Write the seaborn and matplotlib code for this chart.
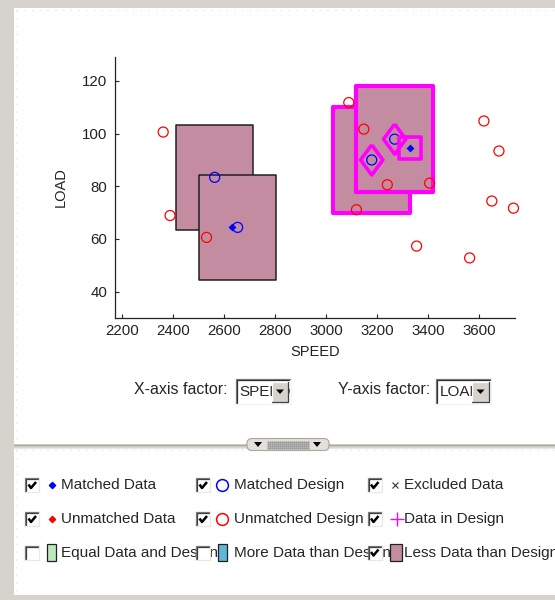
import matplotlib.pyplot as plt
from matplotlib.patches import Rectangle, FancyBboxPatch, Polygon
import seaborn as sns

# design points that have no data inside their tolerance cell
unmatched_speed = [2360, 2387, 2530, 3088, 3147, 3239, 3118, 3405, 3354, 3618, 3677, 3649, 3734, 3562]
unmatched_load = [100.6, 68.9, 60.6, 111.8, 101.7, 80.6, 71.1, 81.2, 57.3, 104.8, 93.4, 74.4, 71.7, 52.8]

# design points matched to data
matched_speed = [2562, 2652, 3178, 3268]
matched_load = [83.4, 64.4, 90.0, 97.9]
cell_selected = [False, False, True, True]

# data points matched to design
data_speed = [2628, 3327]
data_load = [64.5, 94.6]

# selected points (highlighted in magenta)
sel_design_speed = [3178, 3268]
sel_design_load = [90.0, 97.9]
sel_data_speed = [3327]
sel_data_load = [94.6]

# tolerance of a cell
tol_speed = 152
tol_load = 20

x_ticks = [2200, 2400, 2600, 2800, 3000, 3200, 3400, 3600]
y_ticks = [40, 60, 80, 100, 120]

legend_rows = [
    [("Matched Data", True), ("Matched Design", True), ("Excluded Data", True)],
    [("Unmatched Data", True), ("Unmatched Design", True), ("Data in Design", True)],
    [("Equal Data and Design", False), ("More Data than Design", False), ("Less Data than Design", True)],
]

GRAY = "#D6D3CC"
MAUVE = "#C48CA0"

sns.set_style("ticks")
plt.rcParams["font.family"] = ["Liberation Sans", "DejaVu Sans"]

fig = plt.figure(figsize=(5.55, 6.0), dpi=100, facecolor=GRAY)

# -------------------------
# window chrome (pixel coords)
# -------------------------
bg = fig.add_axes([0, 0, 1, 1], zorder=0)
bg.set_xlim(0, 555)
bg.set_ylim(600, 0)
bg.axis("off")

bg.add_patch(Rectangle((14, 8), 541, 436, facecolor="white", edgecolor="none"))
bg.add_patch(Rectangle((14, 448), 541, 147, facecolor="white", edgecolor="none"))
bg.plot([14, 555], [444.5, 444.5], color="#A8A69E", lw=0.9)
bg.plot([14, 555], [447.5, 447.5], color="#E8E6E0", lw=0.9)
for y0, y1 in [(8, 444), (448, 595)]:
    bg.plot([15.5, 15.5], [y0 + 2, y1 - 2], color="#E2E2DA", lw=0.8, ls=(0, (1, 6)))
    bg.plot([16, 555], [y0 + 1.5, y0 + 1.5], color="#E2E2DA", lw=0.8, ls=(0, (1, 6)))

# splitter handle
bg.add_patch(FancyBboxPatch((247, 438.5), 82, 12, boxstyle="round,pad=0,rounding_size=5",
                            facecolor="#E2E0D8", edgecolor="#A8A69E", lw=0.8, zorder=3))
for cx in [258, 317]:
    bg.add_patch(Polygon([[cx - 4, 442], [cx + 4, 442], [cx, 447]], closed=True,
                         facecolor="black", edgecolor="none", zorder=4))
for gx in range(268, 309, 2):
    bg.plot([gx] * 4, [441.5, 443.5, 445.5, 447.5], ls="none", marker="s", ms=0.6,
            color="#9A9A9A", zorder=4)


def popup(x, y, label):
    w, h = 55, 25
    bg.add_patch(Rectangle((x, y), w, h, facecolor="white", edgecolor="none", zorder=2))
    bg.plot([x, x, x + w], [y + h, y, y], color="#808080", lw=0.9, zorder=5)
    bg.plot([x + 1.3, x + 1.3, x + w - 1.3], [y + h - 1.3, y + 1.3, y + 1.3], color="#303030", lw=0.9, zorder=5)
    bg.plot([x, x + w, x + w], [y + h, y + h, y], color="#F4F4F0", lw=0.9, zorder=5)
    field = Rectangle((x + 2, y + 2), w - 4, h - 4, transform=bg.transData)
    t = bg.text(x + 3.5, y + h / 2 + 1, label, fontsize=11, va="center", ha="left", zorder=3)
    t.set_clip_path(field)
    bx = x + w - 19
    bg.add_patch(Rectangle((bx, y + 2.5), 16.5, h - 5, facecolor=GRAY, edgecolor="none", zorder=4))
    bg.plot([bx, bx, bx + 16.5], [y + h - 2.5, y + 2.5, y + 2.5], color="white", lw=0.9, zorder=5)
    bg.plot([bx, bx + 16.5, bx + 16.5], [y + h - 2.5, y + h - 2.5, y + 2.5], color="#404040", lw=0.9, zorder=5)
    cx = bx + 8.5
    bg.add_patch(Polygon([[cx - 4, y + 10.5], [cx + 4, y + 10.5], [cx, y + 15]], closed=True,
                         facecolor="black", edgecolor="none", zorder=6))


bg.text(134, 390, "X-axis factor:", fontsize=11.5, va="center", ha="left")
popup(235.5, 379, "SPEED")
bg.text(338, 390, "Y-axis factor:", fontsize=11.5, va="center", ha="left")
popup(436, 379, "LOAD")


def checkbox(x, y, checked):
    bg.add_patch(Rectangle((x, y), 14, 14, facecolor="white", edgecolor="none", zorder=5))
    bg.plot([x, x, x + 14], [y + 14, y, y], color="#808080", lw=0.9, zorder=6)
    bg.plot([x + 1, x + 1, x + 13], [y + 13, y + 1, y + 1], color="#404040", lw=0.9, zorder=6)
    bg.plot([x + 14, x + 14], [y, y + 14], color="#E8E8E4", lw=0.9, zorder=6)
    bg.plot([x, x + 14], [y + 14, y + 14], color="#E8E8E4", lw=0.9, zorder=6)
    if checked:
        bg.plot([x + 3.5, x + 6, x + 11], [y + 6.5, y + 10, y + 4], color="black", lw=1.8,
                zorder=7, solid_capstyle="butt")


col_box = [25, 196, 367.5]
col_text = [60.7, 233.5, 404.5]
row_y = [485, 519, 552.5]
for r, row in enumerate(legend_rows):
    for c, (label, checked) in enumerate(row):
        bg.text(col_text[c], row_y[r], label, fontsize=11, va="center", ha="left", zorder=4)
        checkbox(col_box[c], row_y[r] - 7, checked)

# legend symbols
bg.plot(52, row_y[0], marker="D", ms=3.2, color="blue", zorder=6)
bg.plot(52, row_y[1], marker="D", ms=3.2, color="red", zorder=6)
bg.plot(222, row_y[0], marker="o", ms=8.5, mfc="none", mec="blue", mew=1.1, zorder=6)
bg.plot(222, row_y[1], marker="o", ms=8.5, mfc="none", mec="red", mew=1.1, zorder=6)
bg.plot(395, row_y[0], marker="x", ms=4.5, color="#333333", mew=0.8, zorder=6)
bg.plot(396.5, row_y[1], marker="+", ms=10.5, color="magenta", mew=1.0, zorder=6)
for sx, sw, sc in [(46.5, 9.5, "#BDE6BD"), (218, 8.5, "#62B8D4"), (389.5, 12, MAUVE)]:
    bg.add_patch(Rectangle((sx, row_y[2] - 8.5), sw, 17, facecolor=sc, edgecolor="#202020", lw=0.9, zorder=6))

# -------------------------
# Design vs data plot
# -------------------------
ax = fig.add_axes([115 / 555, 1 - 317.7 / 600, 400 / 555, 260.7 / 600], zorder=1)
ax.set_facecolor("none")

for sx, sy, sel in zip(matched_speed, matched_load, cell_selected):
    ax.add_patch(Rectangle((sx - tol_speed, sy - tol_load), 2 * tol_speed, 2 * tol_load,
                           facecolor=MAUVE,
                           edgecolor="magenta" if sel else "#202020",
                           lw=3.0 if sel else 1.1,
                           joinstyle="round", zorder=2))

sns.scatterplot(x=unmatched_speed, y=unmatched_load, ax=ax, marker="o", s=52,
                facecolors="none", edgecolor="red", linewidth=0.9, legend=False,
                zorder=4, clip_on=False)
sns.scatterplot(x=matched_speed, y=matched_load, ax=ax, marker="o", s=52,
                facecolors="none", edgecolor="blue", linewidth=0.9, legend=False,
                zorder=4, clip_on=False)

diamond = [(0, 1.35), (1, 0), (0, -1.35), (-1, 0), (0, 1.35)]
sns.scatterplot(x=sel_design_speed, y=sel_design_load, ax=ax, marker=diamond, s=470,
                facecolors="none", edgecolor="magenta", linewidth=2.6, legend=False, zorder=5)
sns.scatterplot(x=sel_data_speed, y=sel_data_load, ax=ax, marker="s", s=250,
                facecolors="none", edgecolor="magenta", linewidth=2.6, legend=False, zorder=5)
sns.scatterplot(x=data_speed, y=data_load, ax=ax, marker="D", s=16,
                color="blue", edgecolor="blue", linewidth=0, legend=False, zorder=6)

ax.set_xlim(2171, 3740)
ax.set_ylim(30.1, 129.1)
ax.set_xticks(x_ticks)
ax.set_yticks(y_ticks)
ax.tick_params(direction="in", length=2.9, width=0.8, labelsize=10.8, colors="#222222")
ax.tick_params(axis="x", pad=4.7)
ax.tick_params(axis="y", pad=5.5)
ax.set_xlabel("SPEED", fontsize=10.5, labelpad=5, color="#222222")
ax.set_ylabel("LOAD", fontsize=10.5, labelpad=10, color="#222222")
for side in ["top", "right"]:
    ax.spines[side].set_visible(False)
for side in ["left", "bottom"]:
    ax.spines[side].set_color("#222222")
    ax.spines[side].set_linewidth(0.9)

plt.savefig("out.png", dpi=100, facecolor=GRAY)
plt.close()
